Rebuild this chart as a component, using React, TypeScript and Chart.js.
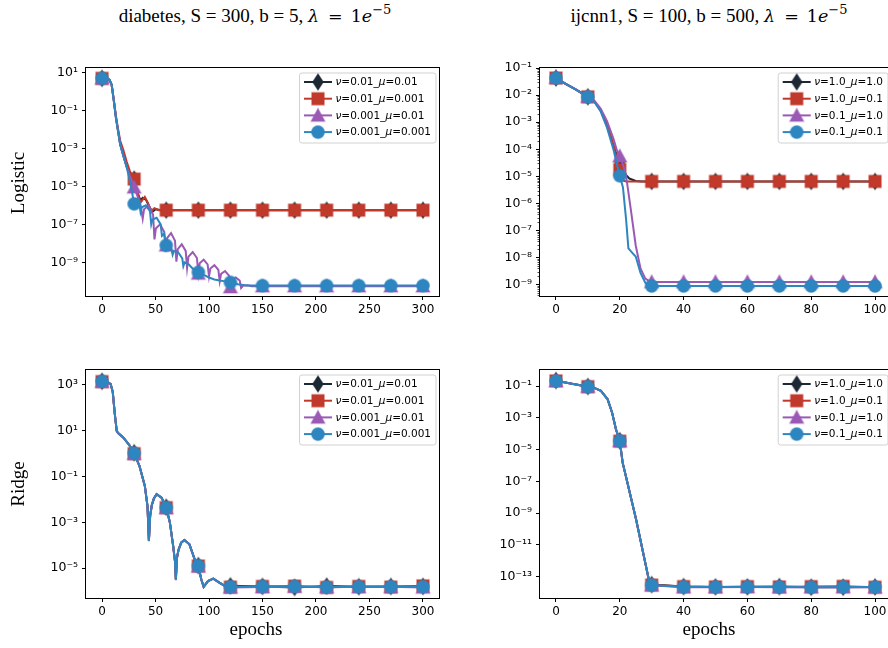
import React, { useEffect, useRef } from 'react';
import { Chart, registerables } from 'chart.js';

Chart.register(...registerables);

// ------------------------------------------------------------------ data
const diabetesLabels = ['ν=0.01_μ=0.01', 'ν=0.01_μ=0.001', 'ν=0.001_μ=0.01', 'ν=0.001_μ=0.001'];
const ijcnnLabels = ['ν=1.0_μ=1.0', 'ν=1.0_μ=0.1', 'ν=0.1_μ=1.0', 'ν=0.1_μ=0.1'];

const diabetesTickX = [0, 50, 100, 150, 200, 250, 300];
const ijcnnTickX = [0, 20, 40, 60, 80, 100];
const diabetesMarkX = [0, 30, 60, 90, 120, 150, 180, 210, 240, 270, 300];
const ijcnnMarkX = [0, 10, 20, 30, 40, 50, 60, 70, 80, 90, 100];

const logisticDiabTickY = [1e1, 1e-1, 1e-3, 1e-5, 1e-7, 1e-9];
const logisticIjcnnTickY = [1e-1, 1e-2, 1e-3, 1e-4, 1e-5, 1e-6, 1e-7, 1e-8, 1e-9];
const ridgeDiabTickY = [1e3, 1e1, 1e-1, 1e-3, 1e-5];
const ridgeIjcnnTickY = [1e-1, 1e-3, 1e-5, 1e-7, 1e-9, 1e-11, 1e-13];

// Logistic / diabetes
const tlBlackX = [0, 4, 7, 9, 11, 13, 15, 17, 20, 23, 26, 28, 30, 33, 36, 38, 41, 44, 47, 50, 55, 60, 90, 120, 150, 180, 210, 240, 270, 300];
const tlBlackY = [4.8, 4.7, 4.0, 2.2, 0.32, 0.04, 7.9e-3, 1.6e-3, 4.0e-4, 1.1e-4, 4.5e-5, 3.5e-5, 2.4e-5, 5.0e-6, 1.8e-6, 2.5e-6, 2.0e-6, 8.9e-7, 4.5e-7, 6.3e-7, 5.6e-7, 5.6e-7, 5.6e-7, 5.6e-7, 5.6e-7, 5.6e-7, 5.6e-7, 5.6e-7, 5.6e-7, 5.6e-7];
const tlRedX = [0, 4, 7, 9, 11, 13, 15, 17, 20, 23, 26, 28, 30, 33, 36, 40, 43, 46, 49, 53, 60, 90, 120, 150, 180, 210, 240, 270, 300];
const tlRedY = [4.8, 4.7, 4.0, 2.2, 0.35, 0.05, 0.01, 2.5e-3, 7.9e-4, 2.0e-4, 6.3e-5, 4.0e-5, 2.4e-5, 5.0e-6, 1.4e-6, 2.8e-6, 1.3e-6, 5.0e-7, 7.1e-7, 5.6e-7, 5.6e-7, 5.6e-7, 5.6e-7, 5.6e-7, 5.6e-7, 5.6e-7, 5.6e-7, 5.6e-7, 5.6e-7];
const tlPurpleX = [0, 4, 7, 9, 11, 13, 15, 17, 20, 23, 26, 28, 30, 33, 36, 38, 39.3, 43.5, 47.7, 49, 50.3, 54.25, 58.2, 59.5, 60, 60.8, 64.5, 68.2, 69.5, 70.8, 74.5, 78.2, 79.5, 80.8, 84.75, 88.7, 90, 91.3, 95, 98.7, 100, 101.3, 105, 108.7, 110, 111.3, 115, 118.7, 120, 121.3, 125, 128.7, 130, 132, 136, 140, 150, 180, 210, 240, 270, 300];
const tlPurpleY = [4.8, 4.7, 4.0, 2.2, 0.32, 0.04, 7.9e-3, 1.6e-3, 4.0e-4, 1.1e-4, 3.5e-5, 1.8e-5, 8.9e-6, 3.2e-6, 1.0e-6, 2.0e-7, 6.3e-7, 1.0e-6, 3.2e-7, 1.6e-8, 6.0e-8, 1.0e-7, 3.9e-8, 3.5e-9, 7.9e-9, 1.9e-8, 3.5e-8, 1.35e-8, 1.1e-9, 5.0e-9, 8.9e-9, 4.0e-9, 5.0e-10, 2.0e-9, 3.5e-9, 1.7e-9, 2.6e-10, 8.9e-10, 1.4e-9, 7.9e-10, 1.8e-10, 4.8e-10, 7.1e-10, 4.1e-10, 1.0e-10, 2.5e-10, 3.5e-10, 2.0e-10, 5.0e-11, 1.15e-10, 1.6e-10, 1.1e-10, 4.5e-11, 6.0e-11, 6.3e-11, 5.6e-11, 5.6e-11, 5.6e-11, 5.6e-11, 5.6e-11, 5.6e-11, 5.6e-11];
const tlBlueX = [0, 4, 7, 9, 11, 13, 15, 17, 20, 23, 26, 28, 30, 31.5, 33, 34.8, 36, 37.2, 41, 44.8, 46, 47.2, 51, 54.8, 56, 58, 60, 62, 64, 66, 67.2, 71, 75, 76, 77.2, 81, 85, 90, 95, 100, 105, 110, 115, 120, 127, 135, 150, 180, 210, 240, 270, 300];
const tlBlueY = [4.8, 4.7, 4.0, 2.2, 0.32, 0.04, 7.9e-3, 1.6e-3, 4.0e-4, 1.0e-4, 2.0e-5, 5.0e-6, 1.2e-6, 2.0e-6, 2.1e-6, 1.4e-6, 4.5e-7, 7.9e-7, 1.0e-6, 5.0e-7, 1.0e-7, 1.8e-7, 2.2e-7, 1.0e-7, 2.5e-8, 3.2e-8, 7.9e-9, 1.1e-8, 7.9e-9, 2.5e-9, 4.0e-9, 3.5e-9, 1.6e-9, 6.3e-10, 1.0e-9, 7.9e-10, 4.5e-10, 3.0e-10, 2.2e-10, 1.6e-10, 1.26e-10, 1.1e-10, 1.0e-10, 8.9e-11, 7.1e-11, 6.0e-11, 6.0e-11, 6.0e-11, 6.0e-11, 6.0e-11, 6.0e-11, 6.0e-11];

// Logistic / ijcnn1
const trBlackX = [0, 3, 6, 10, 12, 14, 16, 17, 18, 19, 20, 21, 22, 23, 25, 27, 30, 40, 50, 60, 70, 80, 90, 100];
const trBlackY = [0.043, 0.026, 0.0166, 8.7e-3, 6.0e-3, 2.8e-3, 7.9e-4, 3.5e-4, 1.4e-4, 6.3e-5, 3.5e-5, 1.8e-5, 1.1e-5, 8.3e-6, 6.8e-6, 6.5e-6, 6.5e-6, 6.5e-6, 6.5e-6, 6.5e-6, 6.5e-6, 6.5e-6, 6.5e-6, 6.5e-6];
const trRedX = [0, 3, 6, 10, 12, 14, 16, 17, 18, 19, 20, 21, 22, 30, 40, 50, 60, 70, 80, 90, 100];
const trRedY = [0.043, 0.026, 0.0166, 8.7e-3, 6.0e-3, 2.8e-3, 7.9e-4, 3.5e-4, 1.4e-4, 5.0e-5, 1.8e-5, 7.1e-6, 6.5e-6, 6.5e-6, 6.5e-6, 6.5e-6, 6.5e-6, 6.5e-6, 6.5e-6, 6.5e-6, 6.5e-6];
const trPurpleX = [0, 3, 6, 10, 12, 14, 16, 18, 19, 20, 21, 22, 23.5, 25, 26.5, 28, 29.5, 30, 40, 50, 60, 70, 80, 90, 100];
const trPurpleY = [0.045, 0.027, 0.017, 8.9e-3, 6.3e-3, 3.2e-3, 1.1e-3, 2.5e-4, 1.0e-4, 5.6e-5, 2.8e-5, 1.0e-5, 5.5e-7, 2.8e-8, 4.0e-9, 1.66e-9, 1.3e-9, 1.26e-9, 1.26e-9, 1.26e-9, 1.26e-9, 1.26e-9, 1.26e-9, 1.26e-9, 1.26e-9];
const trBlueX = [0, 3, 6, 10, 12, 14, 16, 18, 19, 20, 21, 22, 22.7, 24, 25, 26.5, 28, 29.5, 30, 40, 50, 60, 70, 80, 90, 100];
const trBlueY = [0.043, 0.026, 0.0166, 8.7e-3, 5.8e-3, 2.5e-3, 6.3e-4, 1.0e-4, 3.2e-5, 1.05e-5, 3.9e-6, 2.4e-7, 2.2e-8, 1.45e-8, 1.1e-8, 2.7e-9, 1.17e-9, 9.3e-10, 8.9e-10, 8.9e-10, 8.9e-10, 8.9e-10, 8.9e-10, 8.9e-10, 8.9e-10, 8.9e-10];

// Ridge / diabetes
const blX = [0, 4, 8, 10, 12, 13.7, 15, 20, 26, 30, 35, 40, 42.5, 43.8, 45, 46.5, 48.5, 51, 55.6, 60, 63.4, 66.5, 68.2, 69, 70, 71.5, 74, 77, 81.7, 86.5, 90, 92.8, 95, 99, 104, 110, 115, 120, 150, 180, 210, 240, 270, 300];
const blBlackY = [1.45e3, 1.4e3, 1.1e3, 500, 50, 9.8, 7.9, 5.0, 2.2, 1.1, 0.29, 0.039, 5.0e-3, 1.6e-4, 2.0e-3, 5.6e-3, 0.011, 0.017, 0.012, 4.6e-3, 1.0e-3, 9.3e-5, 2.0e-5, 3.2e-6, 2.8e-5, 6.3e-5, 1.3e-4, 1.7e-4, 1.1e-4, 2.5e-5, 1.3e-5, 3.2e-6, 1.55e-6, 2.75e-6, 3.5e-6, 2.3e-6, 1.66e-6, 1.7e-6, 1.6e-6, 1.45e-6, 1.65e-6, 1.55e-6, 1.6e-6, 1.6e-6];
const blRedY = [1.4e3, 1.38e3, 1.1e3, 500, 50, 9.8, 7.9, 5.0, 2.2, 1.0, 0.29, 0.039, 5.0e-3, 1.6e-4, 2.0e-3, 5.6e-3, 0.011, 0.017, 0.012, 4.4e-3, 1.0e-3, 9.3e-5, 2.0e-5, 3.2e-6, 2.8e-5, 6.3e-5, 1.3e-4, 1.7e-4, 1.1e-4, 2.5e-5, 1.25e-5, 3.2e-6, 1.55e-6, 2.75e-6, 3.5e-6, 2.3e-6, 1.66e-6, 1.5e-6, 1.6e-6, 1.65e-6, 1.45e-6, 1.6e-6, 1.5e-6, 1.7e-6];
const blPurpleY = [1.4e3, 1.38e3, 1.1e3, 500, 50, 9.8, 7.9, 5.0, 2.2, 1.0, 0.29, 0.039, 5.0e-3, 1.5e-4, 2.0e-3, 5.6e-3, 0.011, 0.017, 0.012, 4.3e-3, 1.0e-3, 9.3e-5, 2.0e-5, 3.0e-6, 2.8e-5, 6.3e-5, 1.3e-4, 1.7e-4, 1.1e-4, 2.5e-5, 1.2e-5, 3.2e-6, 1.55e-6, 2.75e-6, 3.5e-6, 2.3e-6, 1.66e-6, 1.45e-6, 1.5e-6, 1.55e-6, 1.5e-6, 1.5e-6, 1.55e-6, 1.45e-6];
const blBlueY = [1.45e3, 1.4e3, 1.1e3, 500, 50, 9.8, 7.9, 5.0, 2.2, 1.05, 0.29, 0.039, 5.0e-3, 1.6e-4, 2.0e-3, 5.6e-3, 0.011, 0.017, 0.012, 4.4e-3, 1.0e-3, 9.3e-5, 2.0e-5, 3.2e-6, 2.8e-5, 6.3e-5, 1.3e-4, 1.7e-4, 1.1e-4, 2.5e-5, 1.26e-5, 3.2e-6, 1.55e-6, 2.75e-6, 3.5e-6, 2.3e-6, 1.66e-6, 1.55e-6, 1.6e-6, 1.6e-6, 1.5e-6, 1.55e-6, 1.55e-6, 1.55e-6];

// Ridge / ijcnn1
const brX = [0, 5, 10, 12, 14.1, 16.2, 17.6, 18.8, 20, 20.9, 21.9, 25.1, 28.2, 29.3, 30, 40, 50, 60, 70, 80, 90, 100];
const brBlackY = [0.22, 0.138, 0.093, 0.076, 0.049, 0.0145, 2.1e-3, 1.9e-4, 3.6e-5, 1.5e-6, 2.2e-7, 4.1e-10, 4.7e-13, 4.2e-14, 3.2e-14, 2.4e-14, 2.3e-14, 2.3e-14, 2.4e-14, 2.2e-14, 2.2e-14, 2.3e-14];
const brRedY = [0.21, 0.138, 0.091, 0.076, 0.049, 0.0145, 2.1e-3, 1.9e-4, 3.4e-5, 1.5e-6, 2.2e-7, 4.1e-10, 4.7e-13, 4.2e-14, 3.0e-14, 2.4e-14, 2.3e-14, 2.4e-14, 2.3e-14, 2.4e-14, 2.5e-14, 2.2e-14];
const brPurpleY = [0.21, 0.138, 0.091, 0.076, 0.049, 0.0145, 2.1e-3, 1.9e-4, 3.5e-5, 1.5e-6, 2.2e-7, 4.1e-10, 4.7e-13, 4.2e-14, 2.9e-14, 2.2e-14, 2.2e-14, 2.3e-14, 2.2e-14, 2.2e-14, 2.2e-14, 2.2e-14];
const brBlueY = [0.21, 0.138, 0.091, 0.076, 0.049, 0.0145, 2.1e-3, 1.9e-4, 3.5e-5, 1.5e-6, 2.2e-7, 4.1e-10, 4.7e-13, 4.2e-14, 3.0e-14, 2.3e-14, 2.3e-14, 2.3e-14, 2.3e-14, 2.2e-14, 2.3e-14, 2.3e-14];

// ------------------------------------------------------------------ style
const COLORS = ['#1c2833', '#c0392b', '#9b59b6', '#2e86c1'];
const SHAPES = ['diamond', 'square', 'triangle', 'circle'];
const Y_W = 80;
const X_H = 30;
const PAD_T = 14;
const PAD_R = 12;

type PanelCfg = {
  id: string;
  left: number; top: number; w: number; h: number;
  xMin: number; xMax: number; xTicks: number[]; markX: number[];
  yMin: number; yMax: number; yTicks: number[]; minor: boolean;
  labels: string[];
  series: [number[], number[]][];
};

const PANELS: PanelCfg[] = [
  {
    id: 'tl', left: 86, top: 68, w: 353, h: 228,
    xMin: -15, xMax: 315, xTicks: diabetesTickX, markX: diabetesMarkX,
    yMin: 1.7e-11, yMax: 16.8, yTicks: logisticDiabTickY, minor: false,
    labels: diabetesLabels,
    series: [[tlBlackX, tlBlackY], [tlRedX, tlRedY], [tlPurpleX, tlPurpleY], [tlBlueX, tlBlueY]],
  },
  {
    id: 'tr', left: 540, top: 68, w: 351, h: 228,
    xMin: -5, xMax: 105, xTicks: ijcnnTickX, markX: ijcnnMarkX,
    yMin: 3.8e-10, yMax: 0.101, yTicks: logisticIjcnnTickY, minor: true,
    labels: ijcnnLabels,
    series: [[trBlackX, trBlackY], [trRedX, trRedY], [trPurpleX, trPurpleY], [trBlueX, trBlueY]],
  },
  {
    id: 'bl', left: 86, top: 370, w: 353, h: 228,
    xMin: -15, xMax: 315, xTicks: diabetesTickX, markX: diabetesMarkX,
    yMin: 5.0e-7, yMax: 4.5e3, yTicks: ridgeDiabTickY, minor: false,
    labels: diabetesLabels,
    series: [[blX, blBlackY], [blX, blRedY], [blX, blPurpleY], [blX, blBlueY]],
  },
  {
    id: 'br', left: 540, top: 370, w: 351, h: 228,
    xMin: -5, xMax: 105, xTicks: ijcnnTickX, markX: ijcnnMarkX,
    yMin: 4.6e-15, yMax: 1.016, yTicks: ridgeIjcnnTickY, minor: false,
    labels: ijcnnLabels,
    series: [[brX, brBlackY], [brX, brRedY], [brX, brPurpleY], [brX, brBlueY]],
  },
];

const SUP: Record<string, string> = { '-': '⁻', '0': '⁰', '1': '¹', '2': '²', '3': '³', '4': '⁴', '5': '⁵', '6': '⁶', '7': '⁷', '8': '⁸', '9': '⁹' };
function powLabel(v: number): string {
  const e = Math.round(Math.log10(v));
  return '10' + String(e).split('').map((c) => SUP[c]).join('');
}

function makeMarker(kind: string, color: string): HTMLCanvasElement {
  const c = document.createElement('canvas');
  c.width = 20;
  c.height = 20;
  const g = c.getContext('2d') as CanvasRenderingContext2D;
  const cx = 10, cy = 10;
  g.beginPath();
  if (kind === 'diamond') {
    g.moveTo(cx, cy - 8.2); g.lineTo(cx + 5.4, cy); g.lineTo(cx, cy + 8.2); g.lineTo(cx - 5.4, cy); g.closePath();
  } else if (kind === 'square') {
    g.rect(cx - 6.2, cy - 6.2, 12.4, 12.4);
  } else if (kind === 'triangle') {
    g.moveTo(cx, cy - 7); g.lineTo(cx + 7, cy + 6); g.lineTo(cx - 7, cy + 6); g.closePath();
  } else {
    g.arc(cx, cy, 6.5, 0, Math.PI * 2);
  }
  g.fillStyle = color;
  g.fill();
  g.globalAlpha = 0.45;
  g.lineWidth = 1.2;
  g.strokeStyle = color;
  g.stroke();
  return c;
}

function segs(text: string): { t: string; it: boolean }[] {
  const out: { t: string; it: boolean }[] = [];
  for (const ch of text) {
    const it = ch === 'ν' || ch === 'μ';
    const last = out[out.length - 1];
    if (last && last.it === it) last.t += ch;
    else out.push({ t: ch, it });
  }
  return out;
}

const LEG_FONT = 10.5;
function legFont(it: boolean) {
  return (it ? 'italic ' : '') + LEG_FONT + 'px "DejaVu Sans"';
}
function richWidth(g: CanvasRenderingContext2D, text: string) {
  let w = 0;
  for (const s of segs(text)) { g.font = legFont(s.it); w += g.measureText(s.t).width; }
  return w;
}

function Panel({ cfg }: { cfg: PanelCfg }) {
  const ref = useRef<HTMLCanvasElement>(null);
  const cw = Y_W + cfg.w + PAD_R;
  const ch = PAD_T + cfg.h + X_H;

  useEffect(() => {
    const canvas = ref.current as HTMLCanvasElement;
    const markers = SHAPES.map((s, i) => makeMarker(s, COLORS[i]));

    const framePlugin = {
      id: 'frame_' + cfg.id,
      afterDraw(chart: any) {
        const g: CanvasRenderingContext2D = chart.ctx;
        const a = chart.chartArea;
        g.save();
        if (cfg.minor) {
          const ys = chart.scales.y;
          g.strokeStyle = '#000';
          g.lineWidth = 0.7;
          for (let n = -12; n <= 1; n++) {
            for (let k = 2; k <= 9; k++) {
              const v = k * Math.pow(10, n);
              if (v < cfg.yMin || v > cfg.yMax) continue;
              const y = Math.round(ys.getPixelForValue(v)) + 0.5;
              g.beginPath(); g.moveTo(a.left - 2.5, y); g.lineTo(a.left, y); g.stroke();
            }
          }
        }
        // spines
        g.strokeStyle = '#000';
        g.lineWidth = 1;
        g.strokeRect(Math.round(a.left) - 0.5, Math.round(a.top) - 0.5, Math.round(a.right - a.left) + 1, Math.round(a.bottom - a.top) + 1);

        // legend
        let tw = 0;
        for (const l of cfg.labels) tw = Math.max(tw, richWidth(g, l));
        const padL = 4.5, handle = 28, gap = 3.5, padR = 5;
        const bw = padL + handle + gap + tw + padR;
        const bh = 70;
        const bx = a.right - 3 - bw;
        const by = a.top + 5;
        g.beginPath();
        const r = 2.5;
        g.moveTo(bx + r, by);
        g.lineTo(bx + bw - r, by); g.quadraticCurveTo(bx + bw, by, bx + bw, by + r);
        g.lineTo(bx + bw, by + bh - r); g.quadraticCurveTo(bx + bw, by + bh, bx + bw - r, by + bh);
        g.lineTo(bx + r, by + bh); g.quadraticCurveTo(bx, by + bh, bx, by + bh - r);
        g.lineTo(bx, by + r); g.quadraticCurveTo(bx, by, bx + r, by);
        g.closePath();
        g.fillStyle = 'rgba(255,255,255,0.8)';
        g.fill();
        g.strokeStyle = 'rgba(204,204,204,0.9)';
        g.lineWidth = 1;
        g.stroke();
        cfg.labels.forEach((lab, i) => {
          const cy = by + 9 + i * 16.7;
          const hx = bx + padL;
          g.strokeStyle = COLORS[i];
          g.lineWidth = 2;
          g.beginPath(); g.moveTo(hx, cy); g.lineTo(hx + handle, cy); g.stroke();
          g.drawImage(markers[i], hx + handle / 2 - 10, cy - 10);
          let tx = hx + handle + gap;
          g.fillStyle = '#000';
          g.textBaseline = 'middle';
          g.textAlign = 'left';
          for (const s of segs(lab)) {
            g.font = legFont(s.it);
            g.fillText(s.t, tx, cy + 0.5);
            tx += g.measureText(s.t).width;
          }
        });
        g.restore();
      },
    };

    const chart = new Chart(canvas, {
      type: 'line',
      data: {
        datasets: cfg.series.map(([xs, ys], i) => ({
          label: cfg.labels[i],
          data: xs.map((x, j) => ({ x, y: ys[j] })),
          borderColor: COLORS[i],
          backgroundColor: COLORS[i],
          borderWidth: 2,
          tension: 0,
          pointStyle: markers[i] as any,
          pointRadius: (ctx: any) => (ctx.raw && cfg.markX.includes(ctx.raw.x) ? 6 : 0),
          pointHoverRadius: 0,
          pointBorderWidth: 0,
          order: 3 - i,
        })),
      },
      options: {
        responsive: false,
        maintainAspectRatio: false,
        animation: false,
        devicePixelRatio: 1,
        events: [],
        layout: { padding: { top: PAD_T, right: PAD_R, left: 0, bottom: 0 }, autoPadding: false },
        plugins: { legend: { display: false }, tooltip: { enabled: false }, title: { display: false } },
        scales: {
          x: {
            type: 'linear',
            min: cfg.xMin,
            max: cfg.xMax,
            bounds: 'data',
            afterBuildTicks: (s: any) => { s.ticks = cfg.xTicks.map((v) => ({ value: v })); },
            afterFit: (s: any) => { s.height = X_H; },
            grid: { display: true, drawOnChartArea: false, drawTicks: true, tickLength: 4, color: '#000', tickColor: '#000', tickWidth: 1 },
            border: { display: false },
            ticks: { color: '#000', font: { family: 'DejaVu Sans', size: 12 }, padding: 3, maxRotation: 0, autoSkip: false, callback: (v: any) => String(v) },
          },
          y: {
            type: 'logarithmic',
            min: cfg.yMin,
            max: cfg.yMax,
            bounds: 'data',
            afterBuildTicks: (s: any) => { s.ticks = cfg.yTicks.map((v) => ({ value: v })); },
            afterFit: (s: any) => { s.width = Y_W; },
            grid: { display: true, drawOnChartArea: false, drawTicks: true, tickLength: 4, color: '#000', tickColor: '#000', tickWidth: 1 },
            border: { display: false },
            ticks: { color: '#000', font: { family: 'DejaVu Sans', size: 12.5 }, padding: 4, autoSkip: false, callback: (v: any) => powLabel(Number(v)) },
          },
        },
      } as any,
      plugins: [framePlugin],
    });
    return () => chart.destroy();
  }, [cfg]);

  return (
    <canvas
      ref={ref}
      width={cw}
      height={ch}
      style={{ position: 'absolute', left: cfg.left - Y_W, top: cfg.top - PAD_T, width: cw, height: ch }}
    />
  );
}

const SERIF = '"Liberation Serif", "Times New Roman", serif';
const MATH = '"DejaVu Serif", "Liberation Serif", serif';
const textBase: React.CSSProperties = {
  position: 'absolute',
  fontFamily: SERIF,
  fontSize: 19,
  lineHeight: '18px',
  whiteSpace: 'nowrap',
  color: '#000',
};

function Title({ cx, name }: { cx: number; name: string }) {
  return (
    <div style={{ ...textBase, fontSize: 19, left: cx, top: 6.5, transform: 'translateX(-50%)' }}>
      {name},{' '}
      <span style={{ fontFamily: MATH, fontSize: 17.5 }}>
        <span style={{ fontStyle: 'italic' }}>λ</span>
        <span style={{ margin: '0 8px 0 9px' }}>=</span>
        1<span style={{ fontStyle: 'italic' }}>e</span>
        <span style={{ position: 'relative', top: '-0.55em', fontSize: 13 }}>−5</span>
      </span>
    </div>
  );
}

export default function App() {
  return (
    <div style={{ position: 'fixed', left: 0, top: 0, width: 888, height: 648, overflow: 'hidden', background: '#fff' }}>
      {PANELS.map((p) => (
        <Panel key={p.id} cfg={p} />
      ))}
      <Title cx={255} name="diabetes, S = 300, b = 5" />
      <Title cx={709} name="ijcnn1, S = 100, b = 500" />
      <div style={{ ...textBase, left: 18, top: 183, transform: 'translate(-50%, -50%) rotate(-90deg)' }}>Logistic</div>
      <div style={{ ...textBase, left: 18, top: 484, transform: 'translate(-50%, -50%) rotate(-90deg)' }}>Ridge</div>
      <div style={{ ...textBase, left: 256, top: 620, transform: 'translateX(-50%)' }}>epochs</div>
      <div style={{ ...textBase, left: 709, top: 620, transform: 'translateX(-50%)' }}>epochs</div>
    </div>
  );
}
